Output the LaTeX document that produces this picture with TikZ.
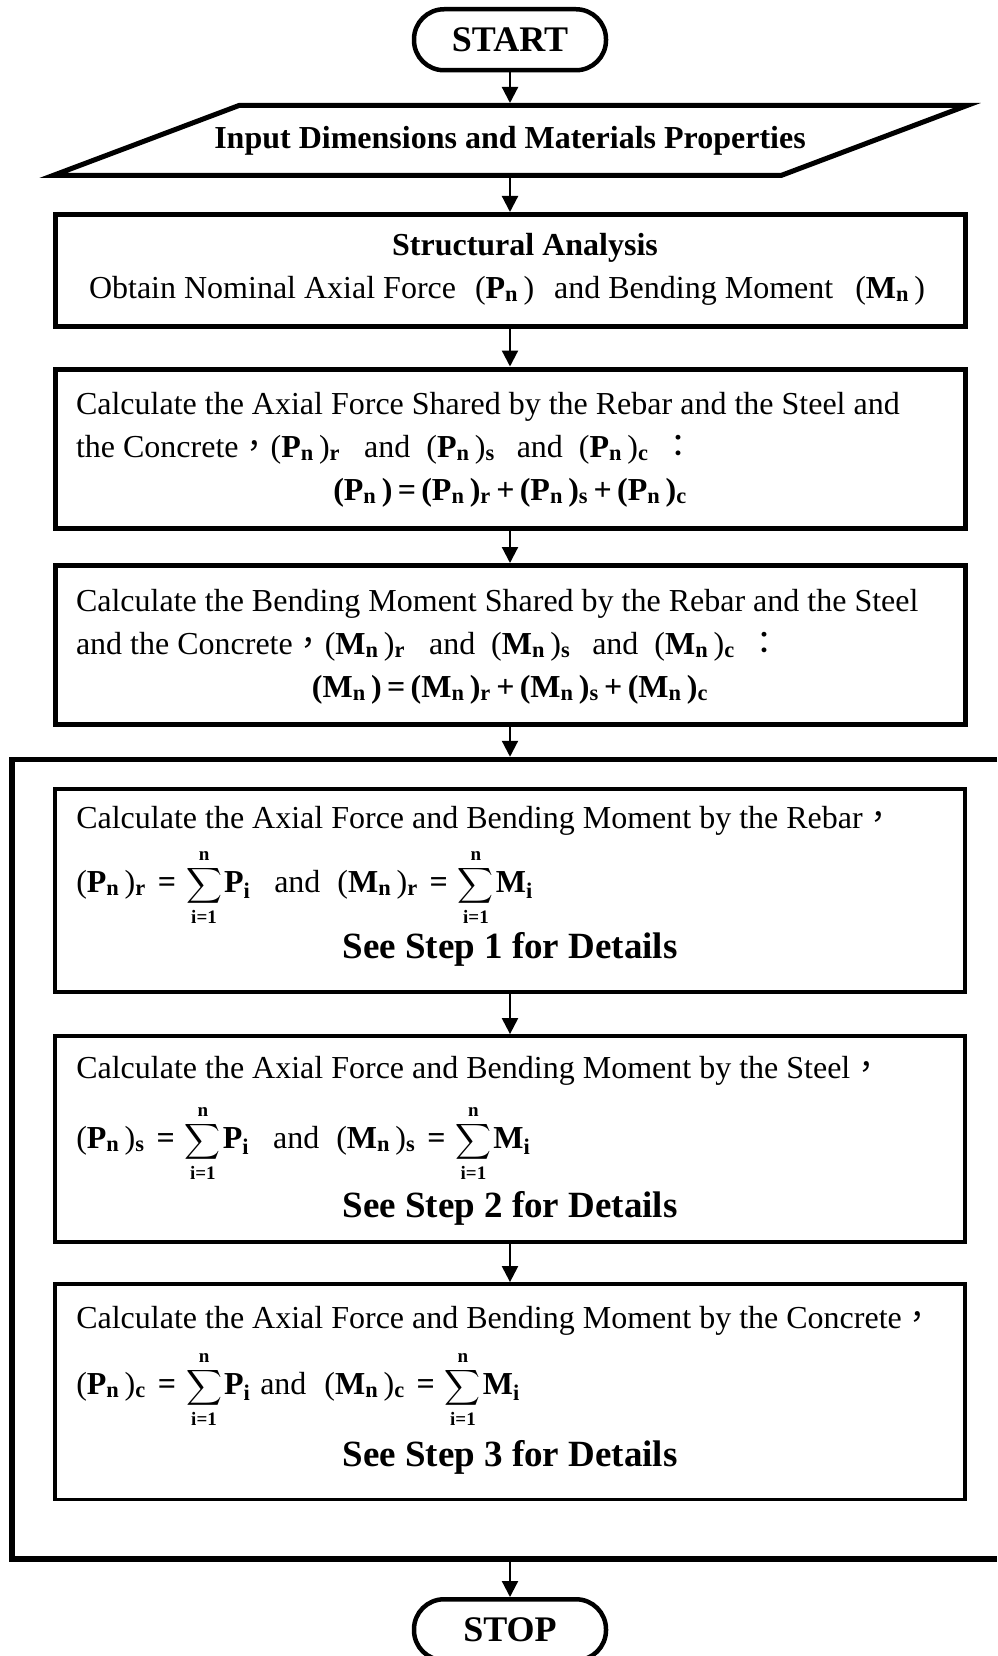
\documentclass[tikz,border=0pt]{standalone}
\usepackage{amsmath}
\usepackage{fontspec}
\setmainfont{Liberation Serif}
\newfontfamily\cjk{Noto Sans CJK TC}
\usetikzlibrary{arrows.meta}

\newcommand{\pn}[1]{(\textbf{#1}\textsubscript{\textbf{n}}\,)}
\newcommand{\shr}[2]{\pn{#1}\textsubscript{\textbf{#2}}}
\newcommand{\limtxt}[1]{\mbox{\fontsize{19}{19}\selectfont\bfseries #1}}
\newcommand{\sumi}[1]{$\mathop{\hbox{\fontsize{27}{27}\selectfont$\displaystyle\sum$}}\limits_{\limtxt{i=1}}^{\limtxt{n}}$\hspace{2pt}\textbf{#1}\textsubscript{\textbf{i}}}
\newcommand{\eqs}{\hspace{12pt}\textbf{=}\hspace{10pt}}

\begin{document}
\begin{tikzpicture}[x=1pt, y=-1pt,
    font=\fontsize{32}{43}\selectfont,
    terminal/.style={draw, line width=4.5pt, rounded corners=30pt, minimum width=192pt, minimum height=61pt, inner sep=0pt, font=\fontsize{36}{40}\selectfont\bfseries},
    iobox/.style={minimum width=740pt, minimum height=70pt, inner sep=0pt, outer sep=2.5pt, font=\fontsize{32}{40}\selectfont\bfseries},
    textbox/.style={text height=22pt, execute at begin node={\spaceskip=0pt\xspaceskip=0pt\hyphenpenalty=10000\relax}},
    mainbox/.style={textbox, draw, line width=5pt, inner xsep=21pt, text width=868pt},
    stepbox/.style={textbox, draw, line width=3.8pt, inner xsep=21.5pt, text width=867.5pt},
    flow/.style={line width=2.2pt, -{Triangle[length=16pt, width=16pt]}},
    loopline/.style={line width=5.5pt}]

    \useasboundingbox (0,0) rectangle (997,1656);

    % Draw nodes
    \node[terminal] (start) at (510,39.75) {START};
    \node[iobox] (input) at (510,140.5) {Input Dimensions and Materials Properties};
    \draw[line width=5pt] (239,105.5) -- (967,105.5) -- (781,175.5) -- (53,175.5) -- cycle;

    \node[mainbox, minimum height=111.5pt, text depth=52.5pt] (analysis) at (510,270.25)
        {\centering\hspace*{30pt}\textbf{Structural Analysis}\\
         \hspace*{13pt}Obtain Nominal Axial Force\hspace{19pt}\pn{P}\hspace{20pt}and Bending Moment\hspace{22pt}\pn{M}};

    \node[mainbox, minimum height=159pt, text depth=91pt] (shareP) at (510,448.5)
        {Calculate the Axial Force Shared by the Rebar and the Steel and\\
         the Concrete{\cjk ，}\shr{P}{r}\hspace{24pt}and\hspace{16pt}\shr{P}{s}\hspace{22pt}and\hspace{16pt}\shr{P}{c}\hspace{14pt}{\cjk ：}\\
         \makebox[\linewidth]{\bfseries \pn{P}\,=\,\shr{P}{r}\,+\,\shr{P}{s}\,+\,\shr{P}{c}}};

    \node[mainbox, minimum height=159pt, text depth=90pt] (shareM) at (510,645)
        {Calculate the Bending Moment Shared by the Rebar and the Steel\\
         and the Concrete{\cjk ，}\shr{M}{r}\hspace{24pt}and\hspace{16pt}\shr{M}{s}\hspace{22pt}and\hspace{16pt}\shr{M}{c}\hspace{14pt}{\cjk ：}\\
         \makebox[\linewidth]{\bfseries \pn{M}\,=\,\shr{M}{r}\,+\,\shr{M}{s}\,+\,\shr{M}{c}}};

    % Loop frame
    \draw[loopline] (997,759.5) -| (12,1559) -- (997,1559);
    \coordinate (looptop) at (510,756.75);
    \coordinate (loopbot) at (510,1561.75);

    \node[stepbox, minimum height=203pt, text depth=147pt] (rebar) at (510,890.5)
        {Calculate the Axial Force and Bending Moment by the Rebar{\cjk ，}\\[21pt]
         \smash{\shr{P}{r}\eqs\sumi{P}\hspace{24pt}and\hspace{17pt}\shr{M}{r}\eqs\sumi{M}}\\[23pt]
         \makebox[\linewidth]{\fontsize{37}{43}\selectfont\bfseries See Step 1 for Details}};

    \node[stepbox, minimum height=206pt, text depth=144pt] (steel) at (510,1139)
        {Calculate the Axial Force and Bending Moment by the Steel{\cjk ，}\\[27pt]
         \smash{\shr{P}{s}\eqs\sumi{P}\hspace{24pt}and\hspace{17pt}\shr{M}{s}\eqs\sumi{M}}\\[26pt]
         \makebox[\linewidth]{\fontsize{37}{43}\selectfont\bfseries See Step 2 for Details}};

    \node[stepbox, minimum height=215.5pt, text depth=149.5pt] (conc) at (510,1391.75)
        {Calculate the Axial Force and Bending Moment by the Concrete{\cjk ，}\\[23pt]
         \smash{\shr{P}{c}\eqs\sumi{P}\hspace{10pt}and\hspace{18pt}\shr{M}{c}\eqs\sumi{M}}\\[29pt]
         \makebox[\linewidth]{\fontsize{37}{43}\selectfont\bfseries See Step 3 for Details}};

    \node[terminal] (stop) at (510,1629.75) {STOP};

    % Draw connections
    \draw[flow] (start) -- (input);
    \draw[flow] (input) -- (analysis);
    \draw[flow] (analysis) -- (shareP);
    \draw[flow] (shareP) -- (shareM);
    \draw[flow] (shareM) -- (looptop);
    \draw[flow] (rebar) -- (steel);
    \draw[flow] (steel) -- (conc);
    \draw[flow] (loopbot) -- (stop);
\end{tikzpicture}
\end{document}
